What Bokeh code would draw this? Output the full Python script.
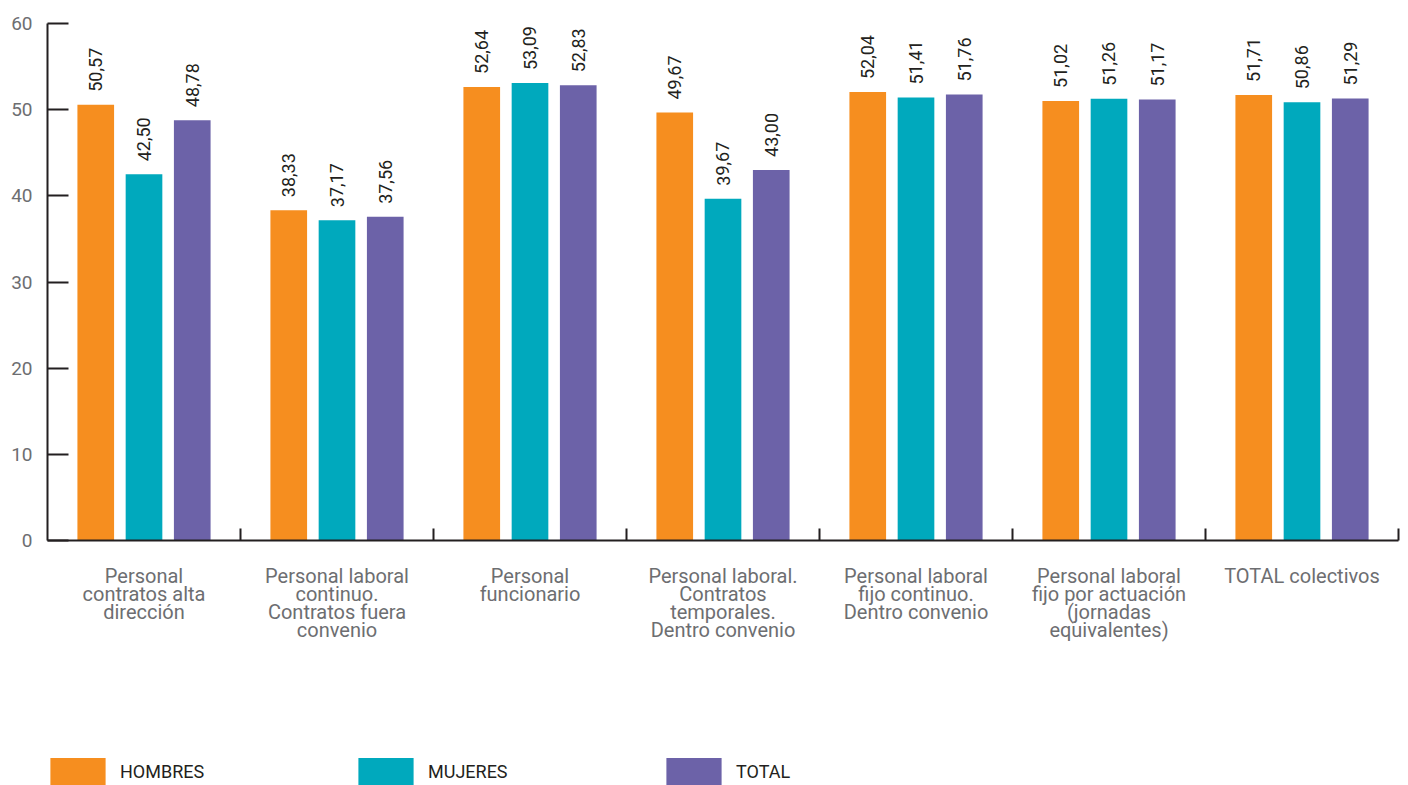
from bokeh.plotting import figure
from bokeh.models import (ColumnDataSource, Range1d, FixedTicker, Legend, LegendItem)
from bokeh.layouts import column
from bokeh.transform import dodge
from bokeh.core.properties import value
from bokeh.embed import file_html
from bokeh.resources import INLINE

categories = [
    "Personal\ncontratos alta\ndirección",
    "Personal laboral\ncontinuo.\nContratos fuera\nconvenio",
    "Personal\nfuncionario",
    "Personal laboral.\nContratos\ntemporales.\nDentro convenio",
    "Personal laboral\nfijo continuo.\nDentro convenio",
    "Personal laboral\nfijo por actuación\n(jornadas\nequivalentes)",
    "TOTAL colectivos",
]
hombres = [50.57, 38.33, 52.64, 49.67, 52.04, 51.02, 51.71]
mujeres = [42.50, 37.17, 53.09, 39.67, 51.41, 51.26, 50.86]
total = [48.78, 37.56, 52.83, 43.00, 51.76, 51.17, 51.29]
series_names = ["HOMBRES", "MUJERES", "TOTAL"]
y_ticks = [0, 10, 20, 30, 40, 50, 60]

colors = ["#F68E1F", "#00A9BD", "#6C62A8"]
FONT = "Roboto"
DARK = "#231F20"
GRAY = "#6D6E71"

def fmt(v):
    return f"{v:.2f}".replace(".", ",")

centers = [i + 0.5 for i in range(len(categories))]
src = ColumnDataSource(dict(
    x=centers,
    h=hombres, m=mujeres, t=total,
    hl=[fmt(v) for v in hombres],
    ml=[fmt(v) for v in mujeres],
    tl=[fmt(v) for v in total],
))

p = figure(width=1400, height=700, output_backend="svg", toolbar_location=None,
           x_range=Range1d(0, len(categories)), y_range=Range1d(0, 60),
           min_border_left=47, min_border_right=2, min_border_top=23,
           min_border_bottom=160)
p.outline_line_color = None
p.xgrid.grid_line_color = None
p.ygrid.grid_line_color = None
p.background_fill_color = "white"

for col, lab, off, c in [("h", "hl", -0.25, colors[0]), ("m", "ml", 0.0, colors[1]), ("t", "tl", 0.25, colors[2])]:
    p.vbar(x=dodge("x", off, range=p.x_range), top=col, width=0.19, bottom=0,
           source=src, fill_color=c, line_color=None)
    p.text(x=dodge("x", off, range=p.x_range), y=col, text=lab, source=src,
           angle=1.5708, text_align="left", text_baseline="middle",
           x_offset=0, y_offset=-13,
           text_font=value(FONT), text_font_size="18px", text_color=DARK)

# y axis
ya = p.yaxis[0]
ya.ticker = FixedTicker(ticks=y_ticks, minor_ticks=[])
ya.axis_line_color = DARK
ya.axis_line_width = 2
ya.major_tick_line_color = DARK
ya.major_tick_line_width = 2
ya.major_tick_in = 21
ya.major_tick_out = 0
ya.minor_tick_line_color = None
ya.major_label_text_font = FONT
ya.major_label_text_font_size = "19px"
ya.major_label_text_color = GRAY
ya.major_label_standoff = 15

# x axis
xa = p.xaxis[0]
xa.ticker = FixedTicker(ticks=centers, minor_ticks=[i + 1 for i in range(len(categories))])
xa.major_label_overrides = {c: lab for c, lab in zip(centers, categories)}
xa.axis_line_color = DARK
xa.axis_line_width = 2
xa.major_tick_line_color = None
xa.minor_tick_line_color = DARK
xa.minor_tick_line_width = 2
xa.minor_tick_in = 12
xa.minor_tick_out = 0
xa.major_label_text_font = FONT
xa.major_label_text_font_size = "20px"
xa.major_label_text_line_height = 0.76
xa.major_label_text_color = GRAY
xa.major_label_standoff = 17

# legend strip
p2 = figure(width=1400, height=85, output_backend="svg", toolbar_location=None,
            x_range=Range1d(0, 1), y_range=Range1d(0, 1),
            x_axis_location=None, y_axis_location=None,
            min_border_left=0, min_border_right=0, min_border_top=0, min_border_bottom=0)
p2.outline_line_color = None
p2.xgrid.grid_line_color = None
p2.ygrid.grid_line_color = None
swatches = [p2.vbar(x=[-10], top=[0], width=0.1, fill_color=c, line_color=None) for c in colors]
legend = Legend(items=[LegendItem(label=n, renderers=[r]) for n, r in zip(series_names, swatches)],
                orientation="horizontal", location=(-4, -4),
                glyph_width=69, glyph_height=35, label_standoff=8, label_width=231,
                spacing=0, padding=0, margin=0,
                border_line_color=None, background_fill_alpha=0,
                label_text_font=FONT, label_text_font_size="18px", label_text_color=DARK)
p2.add_layout(legend, "center")

open("out.html", "w").write(file_html(column(p, p2, spacing=0), INLINE))
